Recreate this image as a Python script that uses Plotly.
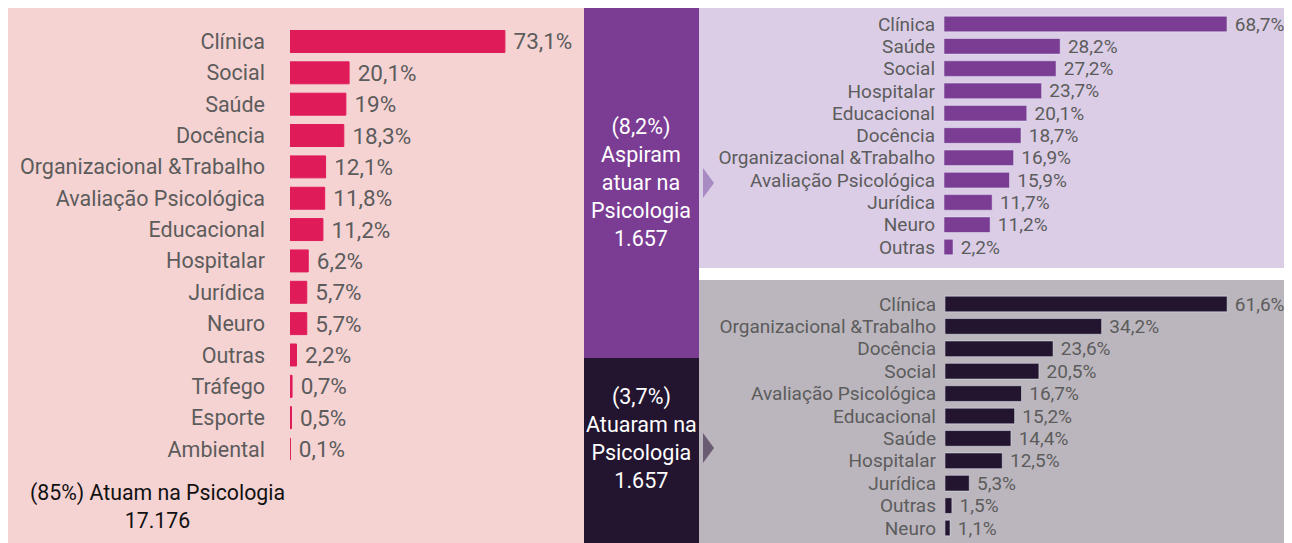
import plotly.graph_objects as go

# The page body adds an 8px margin; the figure fills the rest of the 1292x543 window.
OFF = 8
W, H = 1292 - OFF, 543 - OFF

left_categories = ["Clínica", "Social", "Saúde", "Docência", "Organizacional &Trabalho",
                   "Avaliação Psicológica", "Educacional", "Hospitalar", "Jurídica", "Neuro",
                   "Outras", "Tráfego", "Esporte", "Ambiental"]
left_values = [73.1, 20.1, 19, 18.3, 12.1, 11.8, 11.2, 6.2, 5.7, 5.7, 2.2, 0.7, 0.5, 0.1]

top_categories = ["Clínica", "Saúde", "Social", "Hospitalar", "Educacional", "Docência",
                  "Organizacional &Trabalho", "Avaliação Psicológica", "Jurídica", "Neuro", "Outras"]
top_values = [68.7, 28.2, 27.2, 23.7, 20.1, 18.7, 16.9, 15.9, 11.7, 11.2, 2.2]

bottom_categories = ["Clínica", "Organizacional &Trabalho", "Docência", "Social",
                     "Avaliação Psicológica", "Educacional", "Saúde", "Hospitalar", "Jurídica",
                     "Outras", "Neuro"]
bottom_values = [61.6, 34.2, 23.6, 20.5, 16.7, 15.2, 14.4, 12.5, 5.3, 1.5, 1.1]

left_title = "(85%) Atuam na Psicologia<br>17.176"
top_title = "(8,2%)<br>Aspiram<br>atuar na<br>Psicologia<br>1.657"
bottom_title = "(3,7%)<br>Atuaram na<br>Psicologia<br>1.657"


def fmt(v):
    return " " + f"{v:g}".replace(".", ",") + "%"


def px_x(p):
    return (p - OFF) / W


def px_y(p):
    return 1 - (p - OFF) / H


FONT = "Roboto"
GREY = "#5c5c5c"
C_LEFT, C_TOP, C_BOT = "#E01B5A", "#7B3C94", "#231530"
BG_LEFT, BG_TOP, BG_BOT = "#F6D3D3", "#DBCDE6", "#BBB6BD"

L_LABEL, L_VAL = 21.5, 22.5
R_LABEL, R_VAL = 19, 19

fig = go.Figure()

fig.add_trace(go.Bar(
    x=left_values, y=left_categories, orientation="h",
    marker=dict(color=C_LEFT, line=dict(color=C_LEFT, width=1)),
    text=[fmt(v) for v in left_values], textposition="outside",
    textfont=dict(family=FONT, size=L_VAL, color=GREY),
    cliponaxis=False, constraintext="none",
    xaxis="x", yaxis="y", hoverinfo="skip"))

fig.add_trace(go.Bar(
    x=top_values, y=top_categories, orientation="h",
    marker=dict(color=C_TOP),
    text=[fmt(v) for v in top_values], textposition="outside",
    textfont=dict(family=FONT, size=R_VAL, color=GREY),
    cliponaxis=False, constraintext="none",
    xaxis="x2", yaxis="y2", hoverinfo="skip"))

fig.add_trace(go.Bar(
    x=bottom_values, y=bottom_categories, orientation="h",
    marker=dict(color=C_BOT),
    text=[fmt(v) for v in bottom_values], textposition="outside",
    textfont=dict(family=FONT, size=R_VAL, color=GREY),
    cliponaxis=False, constraintext="none",
    xaxis="x3", yaxis="y3", hoverinfo="skip"))

common_x = dict(showgrid=False, zeroline=False, showticklabels=False, showline=False, fixedrange=True)
common_y = dict(showgrid=False, zeroline=False, showline=False, ticks="", autorange="reversed",
                type="category", fixedrange=True, tickmode="array")

fig.update_layout(
    width=W, height=H,
    margin=dict(l=0, r=0, t=0, b=0),
    paper_bgcolor="white", plot_bgcolor="rgba(0,0,0,0)",
    showlegend=False, bargap=0.3,
    font=dict(family=FONT, color=GREY),
    xaxis=dict(domain=[px_x(290), px_x(580)], range=[0, 290 / 2.94], **common_x),
    yaxis=dict(domain=[px_y(464.7), px_y(25.8)], anchor="x",
               tickvals=left_categories, ticktext=left_categories,
               tickfont=dict(family=FONT, size=L_LABEL, color=GREY), ticklabelstandoff=24, **common_y),
    xaxis2=dict(domain=[px_x(944), px_x(1292)], range=[0, 348 / 4.12], anchor="y2", **common_x),
    yaxis2=dict(domain=[px_y(258.15), px_y(12.85)], anchor="x2",
                tickvals=top_categories, ticktext=top_categories,
                tickfont=dict(family=FONT, size=R_LABEL, color=GREY), ticklabelstandoff=8, **common_y),
    xaxis3=dict(domain=[px_x(945), px_x(1292)], range=[0, 347 / 4.58], anchor="y3", **common_x),
    yaxis3=dict(domain=[px_y(539.2), px_y(292.8)], anchor="x3",
                tickvals=bottom_categories, ticktext=bottom_categories,
                tickfont=dict(family=FONT, size=R_LABEL, color=GREY), ticklabelstandoff=8, **common_y),
)

shapes = [
    dict(type="rect", xref="paper", yref="paper", x0=px_x(5), x1=px_x(584), y0=px_y(543), y1=px_y(8),
         fillcolor=BG_LEFT, line_width=0, layer="below"),
    dict(type="rect", xref="paper", yref="paper", x0=px_x(584), x1=px_x(699), y0=px_y(358), y1=px_y(8),
         fillcolor=C_TOP, line_width=0, layer="below"),
    dict(type="rect", xref="paper", yref="paper", x0=px_x(584), x1=px_x(699), y0=px_y(543), y1=px_y(358),
         fillcolor=C_BOT, line_width=0, layer="below"),
    dict(type="rect", xref="paper", yref="paper", x0=px_x(699), x1=px_x(1292), y0=px_y(268), y1=px_y(8),
         fillcolor=BG_TOP, line_width=0, layer="below"),
    dict(type="rect", xref="paper", yref="paper", x0=px_x(699), x1=px_x(1292), y0=px_y(543), y1=px_y(280),
         fillcolor=BG_BOT, line_width=0, layer="below"),
    dict(type="path", xref="paper", yref="paper",
         path=f"M {px_x(703)},{px_y(168)} L {px_x(714)},{px_y(183)} L {px_x(703)},{px_y(198)} Z",
         fillcolor="#A98BC4", line_width=0, layer="below"),
    dict(type="path", xref="paper", yref="paper",
         path=f"M {px_x(703)},{px_y(433)} L {px_x(714)},{px_y(448)} L {px_x(703)},{px_y(463)} Z",
         fillcolor="#6A5C72", line_width=0, layer="below"),
]
fig.update_layout(shapes=shapes)

fig.add_annotation(text=left_title, xref="paper", yref="paper", x=px_x(157), y=px_y(506),
                   showarrow=False, font=dict(family=FONT, size=21.3, color="#111111"),
                   align="center", xanchor="center", yanchor="middle")
fig.add_annotation(text=top_title, xref="paper", yref="paper", x=px_x(641), y=px_y(183),
                   showarrow=False, font=dict(family=FONT, size=21.5, color="white"),
                   align="center", xanchor="center", yanchor="middle")
fig.add_annotation(text=bottom_title, xref="paper", yref="paper", x=px_x(641), y=px_y(438),
                   showarrow=False, font=dict(family=FONT, size=21.5, color="white"),
                   align="center", xanchor="center", yanchor="middle")

fig.write_html("out.html")
